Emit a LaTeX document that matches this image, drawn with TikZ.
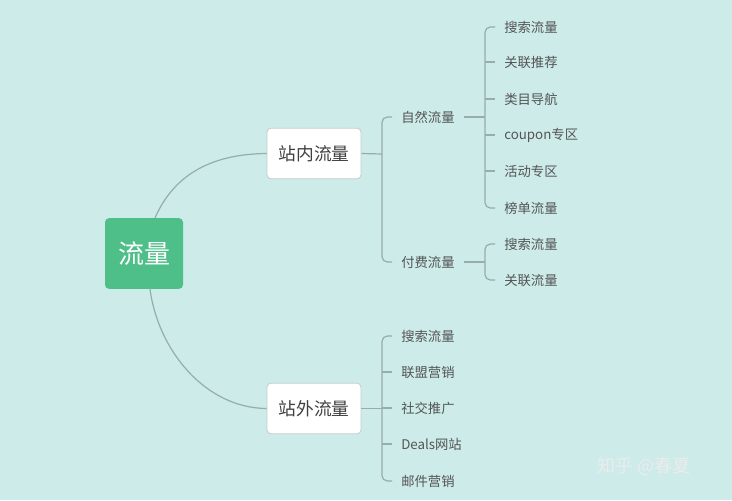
\documentclass[tikz,border=0pt]{standalone}
\usepackage{fontspec}
\setmainfont{Noto Sans CJK SC}
\usetikzlibrary{calc}
\definecolor{bg}{HTML}{CCEBE9}
\definecolor{rootgreen}{HTML}{4FBF8A}
\definecolor{linec}{HTML}{98ADA6}
\definecolor{txt}{HTML}{555555}
\definecolor{boxborder}{HTML}{C4CCCA}
\begin{document}
\begin{tikzpicture}[x=0.75pt,y=-0.75pt,
  conn/.style={draw=linec,line width=0.9pt},
  brk/.style={conn,rounded corners=4pt},
  item/.style={anchor=west,inner xsep=6.75pt,inner ysep=2pt,text=txt,font=\fontsize{10}{12}\selectfont},
  subbox/.style={draw=boxborder,fill=white,rounded corners=3pt,minimum width=70.5pt,minimum height=38pt,text=black!75,font=\fontsize{13.3}{16}\selectfont,line width=0.6pt},
  rootbox/.style={fill=rootgreen,rounded corners=3pt,minimum width=58.5pt,minimum height=53pt,text=white,font=\fontsize{19.5}{22}\selectfont}
]
\useasboundingbox[fill=bg] (0,0) rectangle (732,500);

\node[rootbox] (root) at (144,253.5) {流量};
\node[subbox] (zn) at (314,153.5) {站内流量};
\node[subbox] (zw) at (314,408.5) {站外流量};

\coordinate (rt) at (155,218);
\coordinate (rb) at (150,289);
\draw[conn] (rt) .. controls (175,172) and (215,154) .. (zn.west);
\draw[conn] (rb) .. controls (158,350) and (205,408) .. (zw.west);

% level 2 under 站内流量
\node[item] (zr) at (392,117) {自然流量};
\node[item] (ff) at (392,262) {付费流量};
\coordinate (b1) at (382,154);
\draw[conn] (zn.east) -- (b1);
\draw[brk] (zr.west) -| (b1) |- (ff.west);

% 自然流量 children
\node[item] (a1) at (495,27) {搜索流量};
\node[item] (a2) at (495,62) {关联推荐};
\node[item] (a3) at (495,99) {类目导航};
\node[item] (a4) at (495,135) {coupon专区};
\node[item] (a5) at (495,171) {活动专区};
\node[item] (a6) at (495,208) {榜单流量};
\coordinate (b2) at (485,117);
\draw[conn] (zr.east) -- (b2);
\draw[brk] (a1.west) -| (b2) |- (a6.west);
\draw[conn] (b2 |- a2.west) -- (a2.west);
\draw[conn] (b2 |- a3.west) -- (a3.west);
\draw[conn] (b2 |- a4.west) -- (a4.west);
\draw[conn] (b2 |- a5.west) -- (a5.west);

% 付费流量 children
\node[item] (p1) at (495,244) {搜索流量};
\node[item] (p2) at (495,280) {关联流量};
\coordinate (b3) at (485,262);
\draw[conn] (ff.east) -- (b3);
\draw[brk] (p1.west) -| (b3) |- (p2.west);

% 站外流量 children
\node[item] (w1) at (392,336) {搜索流量};
\node[item] (w2) at (392,372) {联盟营销};
\node[item] (w3) at (392,408) {社交推广};
\node[item] (w4) at (392,444) {Deals网站};
\node[item] (w5) at (392,481) {邮件营销};
\coordinate (b4) at (382,408.5);
\draw[conn] (zw.east) -- (b4);
\draw[brk] (w1.west) -| (b4) |- (w5.west);
\draw[conn] (b4 |- w2.west) -- (w2.west);
\draw[conn] (b4 |- w3.west) -- (w3.west);
\draw[conn] (b4 |- w4.west) -- (w4.west);

% watermark
\node[anchor=west,inner sep=0pt,text=white!85!gray,font=\fontsize{13.5}{16}\selectfont] (wm) at (597,466) {知乎 @春夏};
\end{tikzpicture}
\end{document}
